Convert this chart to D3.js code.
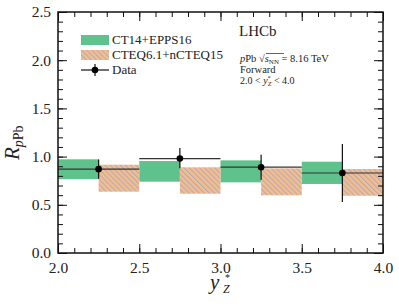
<!DOCTYPE html>
<html>
<head>
<meta charset="utf-8">
<script src="https://cdn.jsdelivr.net/npm/d3@7"></script>
<style>
  body { margin: 0; background: #fff; }
  svg, svg text { font-family: "Liberation Serif", "Times New Roman", serif; }
  text { fill: #222; }
</style>
</head>
<body>
<div id="chart"></div>
<script>
// bins in y*_Z
const binLo = [2.0, 2.5, 3.0, 3.5];
const binHi = [2.5, 3.0, 3.5, 4.0];
const binMid = [2.25, 2.75, 3.25, 3.75];

// LHCb data
const dataVal = [0.87, 0.98, 0.89, 0.83];
const dataErrUp = [0.10, 0.11, 0.13, 0.30];
const dataErrDn = [0.10, 0.10, 0.13, 0.30];

// theory bands
const eppsLo = [0.765, 0.74, 0.733, 0.716];
const eppsHi = [0.972, 0.954, 0.961, 0.947];
const ncteqLo = [0.636, 0.615, 0.598, 0.594];
const ncteqHi = [0.916, 0.889, 0.878, 0.871];

const xTicks = [2.0, 2.5, 3.0, 3.5, 4.0];
const yTicks = [0.0, 0.5, 1.0, 1.5, 2.0, 2.5];

const W = 399, H = 306;
const margin = { top: 12, right: 16, bottom: 53, left: 58 };
const width = W - margin.left - margin.right;
const height = H - margin.top - margin.bottom;

const svg = d3.select("#chart").append("svg")
    .attr("width", W)
    .attr("height", H);

const defs = svg.append("defs");
const hatch = defs.append("pattern")
    .attr("id", "hatch")
    .attr("patternUnits", "userSpaceOnUse")
    .attr("width", 3.6).attr("height", 3.6)
    .attr("patternTransform", "rotate(-45)");
hatch.append("rect").attr("width", 3.6).attr("height", 3.6).attr("fill", "#f9bd85");
hatch.append("line")
    .attr("x1", 0.6).attr("y1", 0).attr("x2", 0.6).attr("y2", 3.6)
    .attr("stroke", "#a3aad0").attr("stroke-width", 1.0);

const g = svg.append("g")
    .attr("transform", `translate(${margin.left},${margin.top})`);

const x = d3.scaleLinear().domain([2.0, 4.0]).range([0, width]);
const y = d3.scaleLinear().domain([0, 2.5]).range([height, 0]);

// EPPS16 bands (left half of each bin)
g.selectAll(".epps").data(binLo).enter().append("rect")
    .attr("x", (d, i) => x(d))
    .attr("width", (d, i) => x(binMid[i]) - x(d))
    .attr("y", (d, i) => y(eppsHi[i]))
    .attr("height", (d, i) => y(eppsLo[i]) - y(eppsHi[i]))
    .attr("fill", "#5fc28d");

// nCTEQ15 bands (right half)
g.selectAll(".ncteq").data(binMid).enter().append("rect")
    .attr("x", d => x(d))
    .attr("width", (d, i) => x(binHi[i]) - x(d))
    .attr("y", (d, i) => y(ncteqHi[i]))
    .attr("height", (d, i) => y(ncteqLo[i]) - y(ncteqHi[i]))
    .attr("fill", "url(#hatch)");

// data: horizontal bin-width bars
g.selectAll(".xerr").data(dataVal).enter().append("line")
    .attr("x1", (d, i) => x(binLo[i]))
    .attr("x2", (d, i) => x(binHi[i]))
    .attr("y1", d => y(d)).attr("y2", d => y(d))
    .attr("stroke", "#333").attr("stroke-width", 1.2);

g.selectAll(".yerr").data(dataVal).enter().append("line")
    .attr("x1", (d, i) => x(binMid[i]))
    .attr("x2", (d, i) => x(binMid[i]))
    .attr("y1", (d, i) => y(d + dataErrUp[i]))
    .attr("y2", (d, i) => y(d - dataErrDn[i]))
    .attr("stroke", "#111").attr("stroke-width", 1.2);

g.selectAll(".pt").data(dataVal).enter().append("circle")
    .attr("cx", (d, i) => x(binMid[i]))
    .attr("cy", d => y(d))
    .attr("r", 3.3)
    .attr("fill", "#000");

// axes with inward ticks on all sides
const tickFmt = d3.format(".1f");
const xMinor = d3.range(2.0, 4.001, 0.1);
const yMinor = d3.range(0, 2.501, 0.1);

function styleAxis(sel) {
    sel.attr("font-family", null).attr("font-size", null);
    sel.select(".domain").remove();
    sel.selectAll("line").attr("stroke", "#111").attr("stroke-width", 1);
}

g.append("g").attr("transform", `translate(0,${height})`)
    .call(d3.axisBottom(x).tickValues(xMinor).tickSize(-5).tickFormat(""))
    .call(styleAxis);
g.append("g").attr("transform", `translate(0,${height})`)
    .call(d3.axisBottom(x).tickValues(xTicks).tickSize(-9).tickPadding(9).tickFormat(tickFmt))
    .call(styleAxis)
    .selectAll("text").style("font-size", "15.5px").attr("fill", "#222");

g.append("g")
    .call(d3.axisTop(x).tickValues(xMinor).tickSize(-5).tickFormat(""))
    .call(styleAxis);
g.append("g")
    .call(d3.axisTop(x).tickValues(xTicks).tickSize(-9).tickFormat(""))
    .call(styleAxis);

g.append("g")
    .call(d3.axisLeft(y).tickValues(yMinor).tickSize(-5).tickFormat(""))
    .call(styleAxis);
g.append("g")
    .call(d3.axisLeft(y).tickValues(yTicks).tickSize(-9).tickPadding(7).tickFormat(tickFmt))
    .call(styleAxis)
    .selectAll("text").style("font-size", "15.5px").attr("fill", "#222");

g.append("g").attr("transform", `translate(${width},0)`)
    .call(d3.axisRight(y).tickValues(yMinor).tickSize(-5).tickFormat(""))
    .call(styleAxis);
g.append("g").attr("transform", `translate(${width},0)`)
    .call(d3.axisRight(y).tickValues(yTicks).tickSize(-9).tickFormat(""))
    .call(styleAxis);

g.append("rect")
    .attr("width", width).attr("height", height)
    .attr("fill", "none").attr("stroke", "#111").attr("stroke-width", 1.5);

// axis titles
svg.append("text")
    .attr("x", 210).attr("y", 289)
    .style("font-size", "21px").style("font-style", "italic")
    .text("y");
svg.append("text")
    .attr("x", 225).attr("y", 281)
    .style("font-size", "10px")
    .text("*");
svg.append("text")
    .attr("x", 223).attr("y", 293)
    .style("font-size", "12px").style("font-style", "italic")
    .text("Z");

const yl = svg.append("text")
    .attr("transform", "translate(19,160) rotate(-90)")
    .style("font-size", "21px").style("font-style", "italic");
yl.append("tspan").text("R");
yl.append("tspan").attr("dy", 4).style("font-size", "14px").text("p");
yl.append("tspan").style("font-size", "14px").style("font-style", "normal").text("Pb");

// legend
const leg = svg.append("g");
leg.append("rect").attr("x", 81).attr("y", 35).attr("width", 28).attr("height", 10).attr("fill", "#5fc28d");
leg.append("rect").attr("x", 81).attr("y", 50).attr("width", 28).attr("height", 10).attr("fill", "url(#hatch)");
leg.append("line").attr("x1", 81).attr("x2", 109).attr("y1", 70).attr("y2", 70).attr("stroke", "#111").attr("stroke-width", 1.2);
leg.append("line").attr("x1", 95).attr("x2", 95).attr("y1", 64).attr("y2", 76).attr("stroke", "#111").attr("stroke-width", 1.2);
leg.append("circle").attr("cx", 95).attr("cy", 70).attr("r", 3.3).attr("fill", "#000");
const legLabels = ["CT14+EPPS16", "CTEQ6.1+nCTEQ15", "Data"];
leg.selectAll(".ll").data(legLabels).enter().append("text")
    .attr("x", 112)
    .attr("y", (d, i) => 44 + i * 15)
    .style("font-size", "13px")
    .text(d => d);

// annotations
svg.append("text").attr("x", 239).attr("y", 36).style("font-size", "15px").text("LHCb");
const t1 = svg.append("text").attr("x", 240).attr("y", 62).style("font-size", "10.5px");
t1.append("tspan").style("font-style", "italic").text("p");
t1.append("tspan").text("Pb \u221A");
t1.append("tspan").style("font-style", "italic").text("s");
t1.append("tspan").attr("dy", 1.5).style("font-size", "7px").text("NN");
t1.append("tspan").attr("dy", -1.5).text(" = 8.16 TeV");
// radical bar
svg.append("line").attr("x1", 266).attr("x2", 284).attr("y1", 53.5).attr("y2", 53.5)
    .attr("stroke", "#222").attr("stroke-width", 0.7);
svg.append("text").attr("x", 240).attr("y", 73).style("font-size", "10.5px").text("Forward");
const t3 = svg.append("text").attr("x", 240).attr("y", 84).style("font-size", "10px");
t3.append("tspan").text("2.0 < ");
t3.append("tspan").style("font-style", "italic").text("y");
t3.append("tspan").attr("dy", -4).style("font-size", "6.5px").text("*");
t3.append("tspan").attr("dy", 6).attr("dx", -3).style("font-size", "6.5px").style("font-style", "italic").text("Z");
t3.append("tspan").attr("dy", -2).text(" < 4.0");
</script>
</body>
</html>
